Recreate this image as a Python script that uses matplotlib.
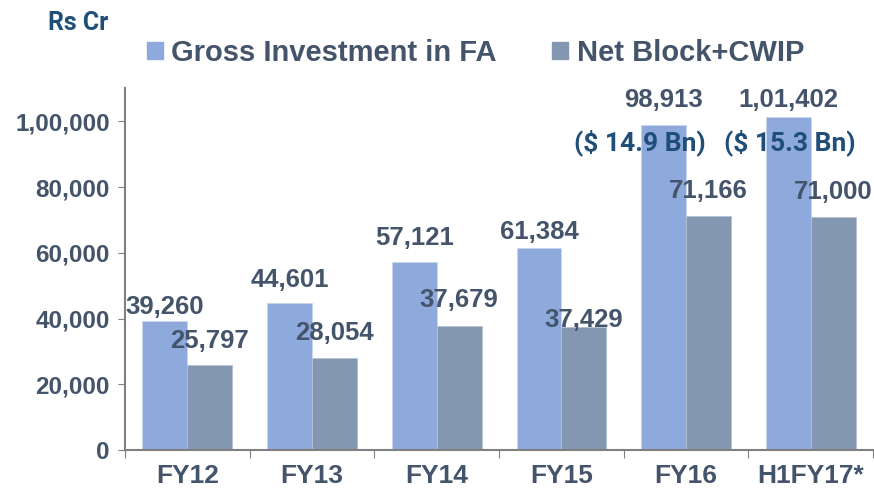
import matplotlib.pyplot as plt
import numpy as np
from matplotlib.patches import Patch

plt.rcParams['font.family'] = ['Liberation Sans', 'DejaVu Sans']

# data
categories = ['FY12', 'FY13', 'FY14', 'FY15', 'FY16', 'H1FY17*']
gross = [39260, 44601, 57121, 61384, 98913, 101402]
net = [25797, 28054, 37679, 37429, 71166, 71000]
gross_labels = ['39,260', '44,601', '57,121', '61,384', '98,913', '1,01,402']
net_labels = ['25,797', '28,054', '37,679', '37,429', '71,166', '71,000']
usd_notes = {4: '($ 14.9 Bn)', 5: '($ 15.3 Bn)'}
yticks = [0, 20000, 40000, 60000, 80000, 100000]
ytick_labels = ['0', '20,000', '40,000', '60,000', '80,000', '1,00,000']

# label offsets (pixels above bar top), as placed in the original
gross_off = [14, 23, 24, 16, 25, 17]
net_off = [24, 25, 26, 7, 25, 25]

c_gross = '#8EA9DB'
c_net = '#8497B0'
c_text = '#44546A'
c_blue = '#1F4E79'

fig = plt.figure(figsize=(8.74, 4.94), dpi=100)
ax = fig.add_axes([0.143, 0.089, 0.856, 0.732])

x = np.arange(len(categories))
w = 0.36
b1 = ax.bar(x - w / 2, gross, w, color=c_gross, edgecolor='#C9D6EE', linewidth=0.6)
b2 = ax.bar(x + w / 2, net, w, color=c_net, edgecolor='#B4C0D0', linewidth=0.6)

for i in range(len(x)):
    ax.annotate(gross_labels[i], (x[i] - w / 2, gross[i]), xytext=(0, gross_off[i]),
                textcoords='offset pixels', ha='center', va='center',
                fontsize=18.5, fontweight='bold', color=c_text)
    ax.annotate(net_labels[i], (x[i] + w / 2, net[i]), xytext=(0, net_off[i]),
                textcoords='offset pixels', ha='center', va='center',
                fontsize=18.5, fontweight='bold', color=c_text)

for i, s in usd_notes.items():
    dx = -0.37 if i == 4 else -0.17
    ax.text(i + dx, 93450, s, ha='center', va='center', fontsize=19,
            fontweight='bold', color=c_blue, family=['Roboto', 'DejaVu Sans'])

ax.set_xlim(-0.5, len(categories) - 0.5)
ax.set_ylim(0, 110000)
ax.set_yticks(yticks)
ax.set_yticklabels(ytick_labels, fontsize=17.5, fontweight='bold', color=c_text)
ax.set_xticks(np.arange(-0.5, len(categories), 1), minor=False)
ax.set_xticklabels([])
ax.set_xticks(x, minor=True)
ax.set_xticklabels(categories, minor=True, fontsize=19, fontweight='bold', color=c_text)
ax.tick_params(axis='x', which='minor', length=0, pad=10)
ax.tick_params(axis='x', which='major', length=6, color='#808080', direction='out')
ax.tick_params(axis='y', length=5, color='#808080', pad=6)

for s in ['top', 'right']:
    ax.spines[s].set_visible(False)
for s in ['left', 'bottom']:
    ax.spines[s].set_color('#808080')
    ax.spines[s].set_linewidth(1.5)

fig.text(0.089, 0.953, 'Rs Cr', ha='center', va='center', fontsize=18,
         fontweight='bold', color=c_blue,
         family=['Liberation Sans Narrow', 'Roboto', 'DejaVu Sans'])

handles = [Patch(color=c_gross, label='Gross Investment in FA'),
           Patch(color=c_net, label='Net Block+CWIP')]
leg = fig.legend(handles=handles, loc='center', bbox_to_anchor=(0.544, 0.893), ncol=2,
                 frameon=False, handlelength=0.55, handleheight=0.55, handletextpad=0.3,
                 columnspacing=1.9, prop={'size': 21, 'weight': 'bold'})
for t in leg.get_texts():
    t.set_color(c_text)

fig.savefig('out.png', dpi=100)
